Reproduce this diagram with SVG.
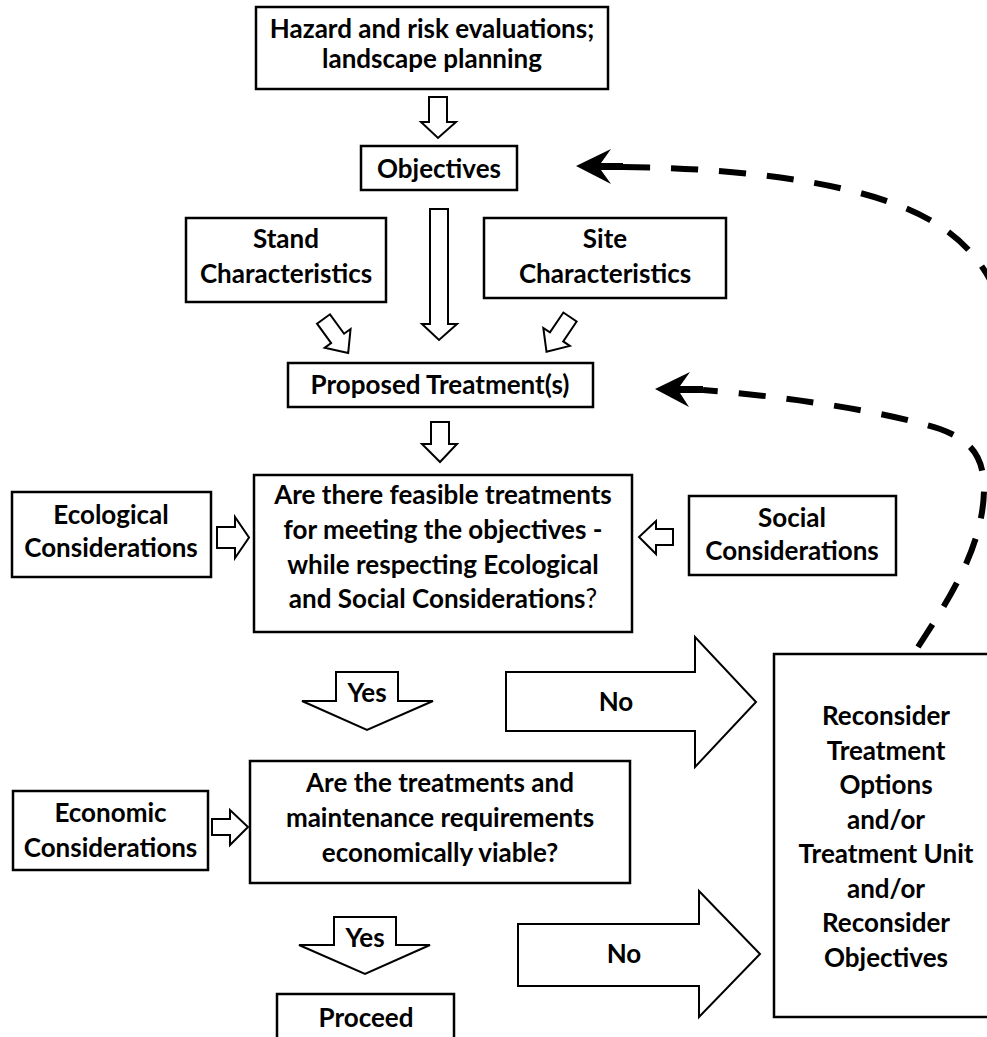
<svg xmlns="http://www.w3.org/2000/svg" width="987" height="1037" viewBox="0 0 987 1037">
<style>
.box{fill:#fff;stroke:#000;stroke-width:2.5}
.blk{fill:#fff;stroke:#000;stroke-width:2;stroke-linejoin:miter}
.t{font-family:Lato,"Open Sans",sans-serif;font-weight:bold;font-size:26px;text-anchor:middle;fill:#000}
.n{font-weight:normal}
.dash{fill:none;stroke:#000;stroke-width:6;stroke-dasharray:27 21}
.head{fill:#000;stroke:none}
</style>
<rect width="987" height="1037" fill="#fff"/>
<g id="connectors">
  <path class="blk" d="M429,97 H447 V122 H456 L438,138 L421,122 H429 Z"/>
  <path class="blk" d="M430,209 H448 V324 H457 L439,340 L422,324 H430 Z"/>
  <path class="blk" transform="translate(323.5,319) rotate(54)" d="M0,-8 H24 V-16 L42,0 L24,16 V8 H0 Z"/>
  <path class="blk" transform="translate(570,317) rotate(124)" d="M0,-8 H24 V-16 L42,0 L24,16 V8 H0 Z"/>
  <path class="blk" d="M431,422 H449 V444 H457 L440,462 L422,444 H431 Z"/>
  <path class="blk" d="M217,527 H235 V517 L249,537.5 L235,558 V548 H217 Z"/>
  <path class="blk" d="M673,529 H656 V521 L639,537 L656,554 V545 H673 Z"/>
  <path class="blk" d="M212,819 H230 V810 L248,827 L230,845 V835 H212 Z"/>
  <g id="yes1">
    <path class="blk" d="M336,672 H398 V701 H433 L367,730 L302,701 H336 Z"/>
    <text class="t" x="367" y="702">Yes</text>
  </g>
  <g id="no1">
    <path class="blk" d="M506,672 H695 V637 L756,702 L695,767 V731 H506 Z"/>
    <text class="t" x="616" y="711">No</text>
  </g>
  <g id="yes2">
    <path class="blk" d="M334,917 H396 V945 H430 L365,974 L299,945 H334 Z"/>
    <text class="t" x="365" y="947">Yes</text>
  </g>
  <g id="no2">
    <path class="blk" d="M518,924 H699 V891 L760,954 L699,1017 V986 H518 Z"/>
    <text class="t" x="624" y="963">No</text>
  </g>
  <path class="dash" d="M623,167 C750,168 870,185 930,220 C965,240 985,265 1000,300 L1010,470"/>
  <path class="head" d="M576,166 L611,149 L601,163 L623,163 L623,170 L601,170 L611,184 Z"/>
  <path class="dash" d="M918,647 C945,605 983,550 984,490 C984,455 970,440 940,429 C880,410 780,396 703,390"/>
  <path class="head" d="M655,389 L690,372 L680,386 L703,386 L703,393 L680,393 L689,407 Z"/>
</g>
<g id="hazard">
  <rect class="box" x="256" y="7" width="352" height="82"/>
  <text class="t" x="432" y="38">Hazard and risk evaluations;</text>
  <text class="t" x="432" y="68">landscape planning</text>
</g>
<g id="objectives">
  <rect class="box" x="361" y="146" width="156" height="44"/>
  <text class="t" x="439" y="178">Objectives</text>
</g>
<g id="stand">
  <rect class="box" x="186" y="218" width="200" height="84"/>
  <text class="t" x="286" y="248">Stand</text>
  <text class="t" x="286" y="283">Characteristics</text>
</g>
<g id="site">
  <rect class="box" x="484" y="218" width="242" height="80"/>
  <text class="t" x="605" y="248">Site</text>
  <text class="t" x="605" y="283">Characteristics</text>
</g>
<g id="proposed">
  <rect class="box" x="288" y="363" width="305" height="44"/>
  <text class="t" x="440" y="394">Proposed Treatment(s)</text>
</g>
<g id="question1">
  <rect class="box" x="254" y="475" width="378" height="157"/>
  <text class="t" x="443" y="504">Are there feasible treatments</text>
  <text class="t" x="443" y="539">for meeting the objectives -</text>
  <text class="t" x="443" y="574">while respecting Ecological</text>
  <text class="t" x="443" y="608">and Social Considerations<tspan class="n">?</tspan></text>
</g>
<g id="ecological">
  <rect class="box" x="12" y="492" width="199" height="85"/>
  <text class="t" x="111" y="524">Ecological</text>
  <text class="t" x="111" y="557">Considerations</text>
</g>
<g id="social">
  <rect class="box" x="689" y="496" width="207" height="79"/>
  <text class="t" x="792" y="527">Social</text>
  <text class="t" x="792" y="560">Considerations</text>
</g>
<g id="question2">
  <rect class="box" x="250" y="761" width="380" height="122"/>
  <text class="t" x="440" y="792">Are the treatments and</text>
  <text class="t" x="440" y="827">maintenance requirements</text>
  <text class="t" x="440" y="862">economically viable?</text>
</g>
<g id="economic">
  <rect class="box" x="13" y="791" width="195" height="79"/>
  <text class="t" x="110.5" y="822">Economic</text>
  <text class="t" x="110.5" y="857">Considerations</text>
</g>
<g id="proceed">
  <rect class="box" x="277" y="994" width="177" height="50"/>
  <text class="t" x="366" y="1027">Proceed</text>
</g>
<g id="reconsider">
  <rect class="box" x="774" y="654" width="224" height="363"/>
  <text class="t" x="886" y="725">Reconsider</text>
  <text class="t" x="886" y="760">Treatment</text>
  <text class="t" x="886" y="794">Options</text>
  <text class="t" x="886" y="829">and/or</text>
  <text class="t" x="886" y="863">Treatment Unit</text>
  <text class="t" x="886" y="898">and/or</text>
  <text class="t" x="886" y="932">Reconsider</text>
  <text class="t" x="886" y="967">Objectives</text>
</g>
</svg>
